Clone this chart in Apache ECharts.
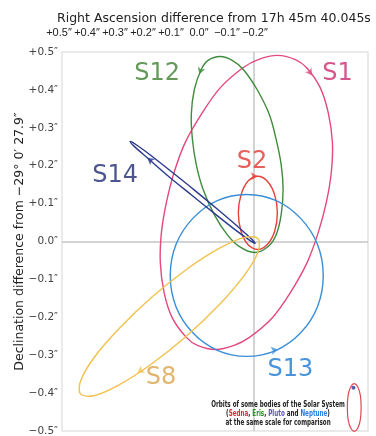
<!DOCTYPE html>
<html>
<head>
<meta charset="utf-8">
<script src="https://cdn.jsdelivr.net/npm/echarts@6/dist/echarts.min.js"></script>
<style>html,body{margin:0;padding:0;background:#fff}#c{width:376px;height:436px}</style>
</head>
<body>
<div id="c"></div>
<script>
// ---- data (arcseconds: [RA offset, Dec offset]) ----
const titleText = 'Right Ascension difference from 17h 45m 40.045s';
const decAxisName = 'Declination difference from \u221229\u00b0 0\u2032 27.9\u2033';
const decTickLabels = ['\u22120.5\u2033','\u22120.4\u2033','\u22120.3\u2033','\u22120.2\u2033','\u22120.1\u2033','0.0\u2033','+0.1\u2033','+0.2\u2033','+0.3\u2033','+0.4\u2033','+0.5\u2033'];
const raTickLabels = ['\u22120.2\u2033','\u22120.1\u2033','0.0\u2033','+0.1\u2033','+0.2\u2033','+0.3\u2033','+0.4\u2033','+0.5\u2033'];

const orbitS1 = [[-0.063,0.491],[-0.110,0.480],[-0.139,0.459],[-0.175,0.406],[-0.196,0.340],[-0.207,0.261],[-0.204,0.182],[-0.191,0.103],[-0.170,0.024],[-0.141,-0.055],[-0.097,-0.135],[-0.050,-0.201],[0.010,-0.253],[0.050,-0.274],[0.099,-0.285],[0.146,-0.274],[0.175,-0.253],[0.212,-0.201],[0.233,-0.135],[0.243,-0.055],[0.240,0.024],[0.227,0.103],[0.207,0.182],[0.178,0.261],[0.133,0.340],[0.086,0.406],[0.026,0.459],[-0.013,0.480]];
const orbitS12 = [[0.086,0.488],[0.055,0.478],[0.026,0.454],[-0.010,0.401],[-0.042,0.335],[-0.060,0.269],[-0.073,0.203],[-0.078,0.137],[-0.073,0.071],[-0.060,0.018],[-0.039,-0.013],[-0.003,-0.029],[0.037,-0.013],[0.068,0.018],[0.102,0.071],[0.131,0.137],[0.149,0.203],[0.159,0.269],[0.162,0.335],[0.154,0.401],[0.136,0.454],[0.118,0.478]];
const orbitS2 = [[-0.012,0.172],[-0.037,0.159],[-0.056,0.123],[-0.063,0.075],[-0.056,0.027],[-0.037,-0.008],[-0.012,-0.021],[0.014,-0.008],[0.032,0.027],[0.039,0.075],[0.032,0.123],[0.014,0.159]];
const orbitS13 = [[0.017,0.124],[-0.060,0.108],[-0.124,0.061],[-0.168,-0.008],[-0.183,-0.090],[-0.168,-0.172],[-0.124,-0.241],[-0.060,-0.287],[0.017,-0.303],[0.094,-0.287],[0.158,-0.241],[0.202,-0.172],[0.217,-0.090],[0.202,-0.008],[0.158,0.061],[0.094,0.108]];
const orbitS14 = [[0.322,0.264],[0.307,0.256],[0.270,0.229],[0.216,0.186],[0.153,0.135],[0.091,0.083],[0.039,0.038],[0.005,0.007],[-0.005,-0.005],[0.009,0.003],[0.046,0.030],[0.100,0.073],[0.163,0.124],[0.225,0.175],[0.277,0.221],[0.311,0.251]];
const orbitS8 = [[0.452,-0.402],[0.417,-0.407],[0.352,-0.379],[0.267,-0.324],[0.175,-0.250],[0.089,-0.167],[0.024,-0.090],[-0.012,-0.029],[-0.013,0.007],[0.022,0.011],[0.087,-0.017],[0.172,-0.072],[0.264,-0.146],[0.350,-0.229],[0.416,-0.306],[0.451,-0.367]];
const orbitSedna = [[-0.264,-0.375],[-0.273,-0.383],[-0.280,-0.406],[-0.282,-0.438],[-0.280,-0.470],[-0.273,-0.493],[-0.264,-0.501],[-0.255,-0.493],[-0.248,-0.470],[-0.246,-0.438],[-0.248,-0.406],[-0.255,-0.383]];
const innerPlanets = [[-0.262,-0.386]];

const starNames = ['S1','S12','S2','S13','S14','S8'];
const starLabelPos = [[-0.220,0.443],[0.251,0.443],[0.003,0.211],[-0.097,-0.338],[0.361,0.174],[0.241,-0.359]];
const arrowPos = [[-0.154,0.438],[0.141,0.441],[-0.012,0.172],[-0.065,-0.285],[0.277,0.221],[0.303,-0.347]];
const arrowTurn = [215,161,-90,-80,51,123];

// ---- styles ----
const lineColors = ['#e2497f','#3f8c3c','#e6403a','#3a8ed6','#2c3a8e','#f2c14e'];
const labelColors = ['#cc2b6e','#3f7f2f','#e03a32','#1a78d0','#1f2a70','#d9a24c'];
const orbits = [orbitS1, orbitS12, orbitS2, orbitS13, orbitS14, orbitS8];

function orbitSeries(data, color, width, z, clip){
  return {type:'custom', data:data, xAxisIndex:0, yAxisIndex:0, z:z, silent:true, animation:false, clip:clip,
    renderItem:(params, api)=>{
      if (params.dataIndex !== 0) return null;
      const pts = data.map(p=>api.coord(p));
      return {type:'polygon', shape:{points:pts, smooth:0.33}, style:{fill:'none', stroke:color, lineWidth:width}, silent:true};
    }};
}

const chart = echarts.init(document.getElementById('c'), null, {renderer:'canvas'});
const series = [];
orbits.forEach((o,i)=>series.push(orbitSeries(o, lineColors[i], 1.4, 3+i, true)));
series.push(orbitSeries(orbitSedna, '#e04a55', 1.2, 3, false));
series.push({type:'scatter', data:innerPlanets, symbolSize:4, itemStyle:{color:'#2c3a8e'}, silent:true, animation:false, z:4,
  markLine:{silent:true, symbol:'none', animation:false, label:{show:false}, z:1,
    lineStyle:{color:'#c6c6c6', width:1.5, type:'solid'}, data:[{xAxis:0},{yAxis:0}]}});
series.push({type:'scatter', silent:true, animation:false, z:20,
  data: arrowPos.map((p,i)=>({value:p, symbolRotate:arrowTurn[i], itemStyle:{color:lineColors[i]}})),
  symbol:'arrow', symbolSize:[6,7]});
series.push({type:'scatter', silent:true, animation:false, z:20, symbolSize:0,
  data: starLabelPos.map((p,i)=>({value:p, name:starNames[i],
    label:{show:true, position:'inside', formatter:starNames[i], color:labelColors[i], fontSize:24, fontFamily:'DejaVu Sans'}}))});

const option = {
  backgroundColor:'#fff',
  animation:false,
  title:{text:titleText, left:52, top:7, textStyle:{fontSize:12.5, fontWeight:'normal', color:'#222', fontFamily:'DejaVu Sans'}},
  grid:[
    {left:62, right:8, top:52, bottom:5, outerBoundsMode:'none', containLabel:false, show:true, borderColor:'#e4e4e4', borderWidth:1.5, backgroundColor:'transparent'},
    {left:59, width:196, top:52, height:1, outerBoundsMode:'none', containLabel:false, show:false}
  ],
  xAxis:[
    {gridIndex:0, type:'value', min:-0.3, max:0.5, inverse:true, show:false},
    {gridIndex:1, type:'value', min:-0.2, max:0.5, interval:0.1, inverse:true, position:'top',
      axisLine:{show:false}, axisTick:{show:false}, splitLine:{show:false},
      axisLabel:{margin:14, fontSize:11, color:'#222', fontFamily:'Liberation Sans', showMinLabel:true, showMaxLabel:true, hideOverlap:false,
        formatter:v=>raTickLabels[Math.round((v+0.2)*10)]}}
  ],
  yAxis:[
    {gridIndex:0, type:'value', min:-0.5, max:0.5, interval:0.1,
      name:decAxisName, nameLocation:'middle', nameRotate:90, nameGap:36, nameMoveOverlap:false,
      nameTextStyle:{fontSize:12.5, color:'#222', fontFamily:'DejaVu Sans'},
      axisLine:{show:false}, axisTick:{show:false}, splitLine:{show:false},
      axisLabel:{margin:4, fontSize:10.5, color:'#444', fontFamily:'DejaVu Sans',
        formatter:v=>decTickLabels[Math.round((v+0.5)*10)]}},
    {gridIndex:1, type:'value', show:false}
  ],
  graphic:[{
    type:'text', x:278, y:400, scaleX:0.7, z:50,
    style:{
      text:'{a|Orbits of some bodies of the Solar System}\n{a|(}{s|Sedna}{a|, }{e|Eris}{a|, }{p|Pluto}{a| and }{n|Neptune}{a|)}\n{a|at the same scale for comparison}',
      align:'center', verticalAlign:'top', lineHeight:9,
      rich:{
        a:{fontSize:8, fontWeight:'bold', fill:'#222', fontFamily:'DejaVu Sans', lineHeight:9},
        s:{fontSize:8, fontWeight:'bold', fill:'#e02a2a', fontFamily:'DejaVu Sans', lineHeight:9},
        e:{fontSize:8, fontWeight:'bold', fill:'#2a8a2a', fontFamily:'DejaVu Sans', lineHeight:9},
        p:{fontSize:8, fontWeight:'bold', fill:'#5a4fc0', fontFamily:'DejaVu Sans', lineHeight:9},
        n:{fontSize:8, fontWeight:'bold', fill:'#2a7fe0', fontFamily:'DejaVu Sans', lineHeight:9}
      }
    }
  }],
  series:series
};
chart.setOption(option);
</script>
</body>
</html>
